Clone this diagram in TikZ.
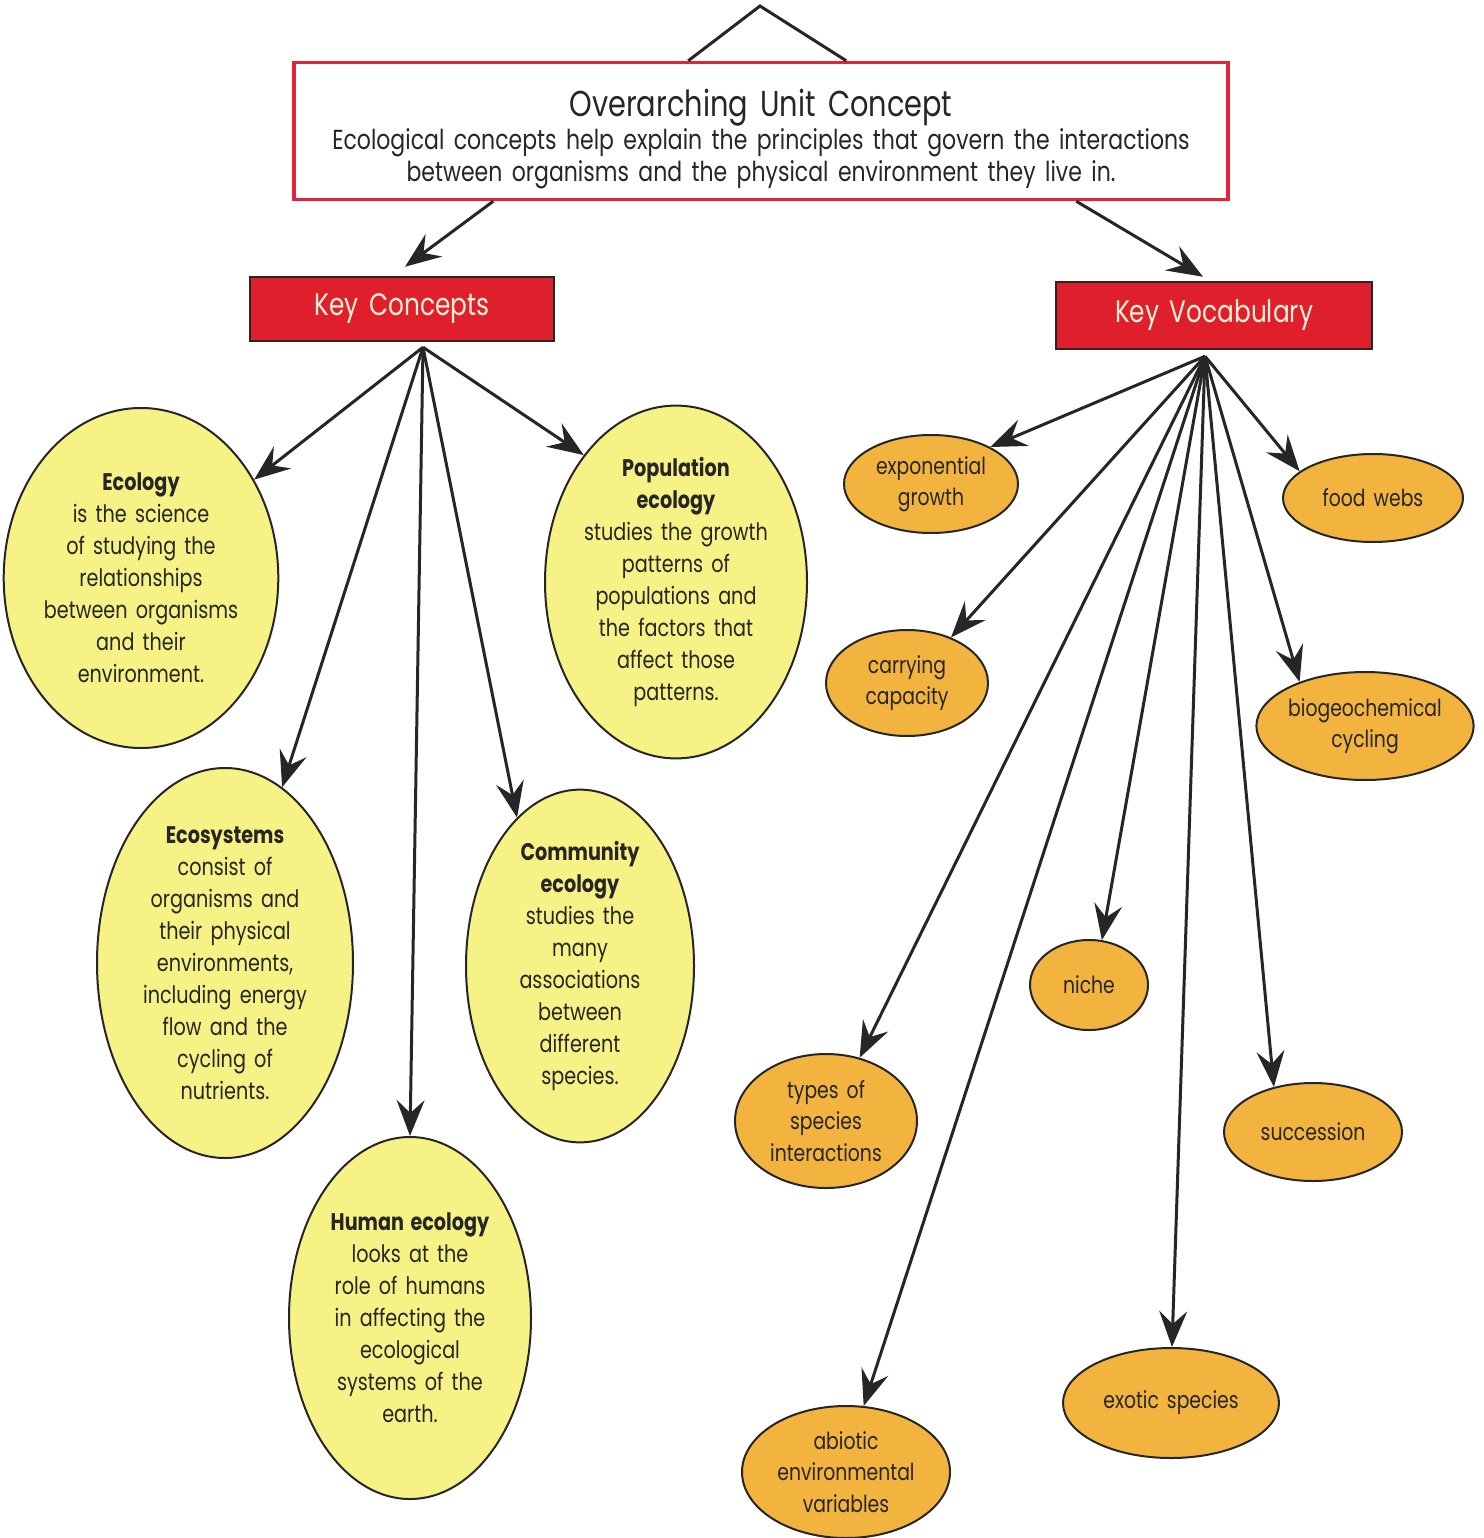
\documentclass[tikz,border=0pt]{standalone}
\usepackage{fontspec}
\setmainfont{Poppins}[FakeStretch=0.8, WordSpace=1.6]
\usetikzlibrary{shapes.geometric,arrows.meta}

\definecolor{frameRed}{HTML}{E4233A}
\definecolor{keyRed}{HTML}{E01F2D}
\definecolor{keyText}{HTML}{FFF1D8}
\definecolor{conceptYellow}{HTML}{F7F285}
\definecolor{vocabOrange}{HTML}{F2B43F}
\definecolor{inkDark}{HTML}{262626}
\definecolor{lineDark}{HTML}{262626}

\tikzset{
  keybox/.style={rectangle, draw=lineDark, line width=2.5pt, fill=keyRed,
    text=keyText, inner sep=0pt, font=\fontsize{31}{36}\selectfont},
  concept/.style={ellipse, draw=lineDark, line width=2pt, fill=conceptYellow,
    inner sep=0pt, align=center, text=inkDark, font=\fontsize{24}{32}\selectfont},
  vocab/.style={ellipse, draw=lineDark, line width=2pt, fill=vocabOrange,
    inner sep=0pt, align=center, text=inkDark, font=\fontsize{23.5}{31.5}\selectfont},
  link/.style={line width=3pt, draw=lineDark,
    -{Stealth[length=36pt, width=28pt, inset=13pt]}},
  plain/.style={line width=3pt, draw=lineDark},
}

\begin{document}
\begin{tikzpicture}[x=1pt, y=-1pt]
\useasboundingbox (0,0) rectangle (1483,1538);
\fill[white] (0,0) rectangle (1483,1538);

% unit concept frame and its text
\node[rectangle, draw=frameRed, line width=3.5pt, fill=white, inner sep=0pt,
      minimum width=934pt, minimum height=137pt] (top) at (761,131) {};
\node[align=center, text=inkDark, inner sep=0pt,
      font=\fontsize{27.5}{32}\selectfont] (topText) at (761,139)
  {{\fontsize{36}{38}\selectfont Overarching Unit Concept}\\[1pt]
   Ecological concepts help explain the principles that govern the interactions\\
   between organisms and the physical environment they live in.};

% hanger
\coordinate (apex) at (760,6);
\draw[plain] ([xshift=396pt]top.north west) -- (apex) -- ([xshift=554pt]top.north west);

% key boxes
\node[keybox, minimum width=304pt, minimum height=64pt] (kc) at (402,309) {Key Concepts};
\node[keybox, minimum width=316pt, minimum height=67pt] (kv) at (1214,315.5) {Key Vocabulary};

\draw[link] ([xshift=201pt]top.south west) -- ([xshift=3pt,yshift=9pt]kc.north);
\draw[link] ([xshift=784pt]top.south west) -- ([xshift=-11pt,yshift=4pt]kv.north);

% concept ellipses
\node[concept, minimum width=264pt, minimum height=340pt] (eco) at (141,578)
  {{\bfseries Ecology}\\ is the science\\ of studying the\\ relationships\\
   between organisms\\ and their\\ environment.};
\node[concept, minimum width=262pt, minimum height=330pt] (pop) at (676,582)
  {{\bfseries Population}\\ {\bfseries ecology}\\ studies the growth\\ patterns of\\
   populations and\\ the factors that\\ affect those\\ patterns.};
\node[concept, minimum width=256pt, minimum height=390pt] (sys) at (225,963)
  {{\bfseries Ecosystems}\\ consist of\\ organisms and\\ their physical\\
   environments,\\ including energy\\ flow and the\\ cycling of\\ nutrients.};
\node[concept, minimum width=228pt, minimum height=342pt] (com) at (580,966)
  {{\bfseries Community}\\ {\bfseries ecology}\\ studies the\\ many\\ associations\\
   between\\ different\\ species.};
\node[concept, minimum width=242pt, minimum height=362pt] (hum) at (410,1318)
  {{\bfseries Human ecology}\\ looks at the\\ role of humans\\ in affecting the\\
   ecological\\ systems of the\\ earth.};

% vocabulary ellipses
\node[vocab, minimum width=174pt, minimum height=98pt]  (expo) at (931,484) {exponential\\ growth};
\node[vocab, minimum width=180pt, minimum height=88pt]  (food) at (1373,498) {food webs};
\node[vocab, minimum width=162pt, minimum height=106pt] (carr) at (907,683) {carrying\\ capacity};
\node[vocab, minimum width=208pt, minimum height=108pt] (bgc)  at (1365,726) {biogeochemical\\ cycling};
\node[vocab, minimum width=182pt, minimum height=134pt] (types) at (826,1121) {types of\\ species\\ interactions};
\node[vocab, minimum width=118pt, minimum height=90pt]  (niche) at (1089,985) {niche};
\node[vocab, minimum width=178pt, minimum height=98pt]  (succ) at (1313,1132) {succession};
\node[vocab, minimum width=208pt, minimum height=132pt] (abio) at (846,1472) {abiotic\\ environmental\\ variables};
\node[vocab, minimum width=216pt, minimum height=110pt] (exot) at (1171,1403) {exotic species};

% hubs under the key boxes
\coordinate (kchub) at ([xshift=21pt,yshift=-5pt]kc.south);
\coordinate (kvhub) at ([xshift=-9pt,yshift=-6pt]kv.south);

\draw[link] (kchub) -- (eco.41);
\draw[link] (kchub) -- (sys.72);
\draw[link] (kchub) -- (hum.90);
\draw[link] (kchub) -- (com.113);
\draw[link] (kchub) -- (pop.126);

\draw[link] (kvhub) -- (expo.32);
\draw[link] (kvhub) -- (food.160);
\draw[link] (kvhub) -- (carr.46);
\draw[link] (kvhub) -- (bgc.146);
\draw[link] (kvhub) -- (types.62);
\draw[link] (kvhub) -- (niche.74);
\draw[link] (kvhub) -- (succ.131);
\draw[link] (kvhub) -- (abio.75);
\draw[link] (kvhub) -- (exot.89);
\end{tikzpicture}
\end{document}
